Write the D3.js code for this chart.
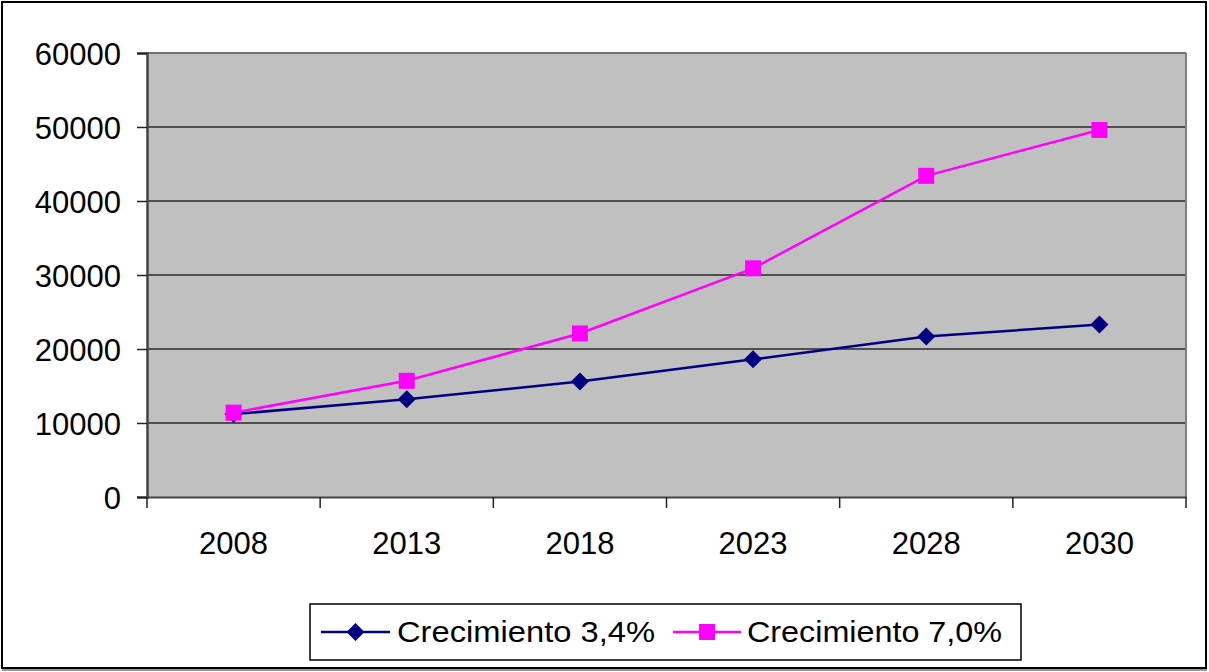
<!DOCTYPE html>
<html><head><meta charset="utf-8">
<script src="https://cdn.jsdelivr.net/npm/d3@7"></script>
<style>body{margin:0;background:#fff}svg{display:block;font-family:"Liberation Sans",Arial,sans-serif}</style>
</head><body><svg id="c" width="1209" height="672"></svg>
<script>
const categories = ["2008","2013","2018","2023","2028","2030"];
const serie34 = [11200,13200,15600,18600,21700,23300];
const serie70 = [11400,15700,22100,30900,43400,49600];
const seriesNames = ["Crecimiento 3,4%","Crecimiento 7,0%"];
const yTicks = [0,10000,20000,30000,40000,50000,60000];

const svg = d3.select("#c");
const L=147,R=1186,T=53,B=497;
const x = d3.scaleBand().domain(categories).range([L,R]);
const y = d3.scaleLinear().domain([0,60000]).range([B,T]);

// outer frame
svg.append("rect").attr("x",2).attr("y",2).attr("width",1204).attr("height",666).attr("fill","#fff").attr("stroke","#000").attr("stroke-width",2);
svg.append("line").attr("x1",2).attr("x2",1207).attr("y1",670).attr("y2",670).attr("stroke","#999").attr("stroke-width",2);

// plot bg
svg.append("rect").attr("x",L).attr("y",T).attr("width",R-L).attr("height",B-T).attr("fill","#C0C0C0");
// gridlines
svg.append("g").selectAll("line").data(yTicks.filter(d=>d>0 && d<60000)).join("line")
  .attr("x1",L).attr("x2",R).attr("y1",d=>y(d)).attr("y2",d=>y(d)).attr("stroke","#2a2a2a").attr("stroke-width",1.5);
// plot border top/right
svg.append("line").attr("x1",L).attr("x2",R).attr("y1",T).attr("y2",T).attr("stroke","#707070").attr("stroke-width",2);
svg.append("line").attr("x1",R).attr("x2",R).attr("y1",T).attr("y2",B).attr("stroke","#808080").attr("stroke-width",2);

// y axis
const ya = svg.append("g").attr("transform",`translate(${L},0)`).call(d3.axisLeft(y).tickValues(yTicks).tickSize(10).tickPadding(16).tickFormat(d3.format("d")));
ya.select(".domain").attr("stroke","#444").attr("stroke-width",2.5);
ya.selectAll(".tick line").attr("stroke","#222").attr("stroke-width",1.5);
ya.selectAll("text").attr("font-size",31).attr("font-family","Liberation Sans, Arial, sans-serif").attr("fill","#000").attr("dy","0.36em");

// x axis
const xa = svg.append("g").attr("transform",`translate(0,${B})`).call(d3.axisBottom(x).tickSize(0).tickPadding(35));
xa.select(".domain").attr("stroke","#444").attr("stroke-width",2);
xa.selectAll("text").attr("font-size",31).attr("font-family","Liberation Sans, Arial, sans-serif").attr("fill","#000");
// tick marks at band boundaries
const bounds = categories.map(c=>x(c)).concat([x(categories[categories.length-1])+x.bandwidth()]);
svg.append("g").selectAll("line").data(bounds).join("line")
  .attr("x1",d=>d).attr("x2",d=>d).attr("y1",B).attr("y2",B+11).attr("stroke","#222").attr("stroke-width",1.5);

const cx = c=>x(c)+x.bandwidth()/2;
const line = d3.line().x((d,i)=>cx(categories[i])).y(d=>y(d));

function diamondPath(s){return `M0,${-s}L${s},0L0,${s}L${-s},0Z`;}

// blue series
svg.append("path").datum(serie34).attr("d",line).attr("fill","none").attr("stroke","#000080").attr("stroke-width",2.5);
svg.append("g").selectAll("path").data(serie34).join("path")
  .attr("transform",(d,i)=>`translate(${cx(categories[i])},${y(d)})`).attr("d",diamondPath(9)).attr("fill","#000080");
// pink series
svg.append("path").datum(serie70).attr("d",line).attr("fill","none").attr("stroke","#FF00FF").attr("stroke-width",2.5);
svg.append("g").selectAll("rect").data(serie70).join("rect")
  .attr("x",(d,i)=>cx(categories[i])-8).attr("y",d=>y(d)-8).attr("width",16).attr("height",16).attr("fill","#FF00FF");

// legend
const lg = svg.append("g");
lg.append("rect").attr("x",310).attr("y",604).attr("width",711).attr("height",56).attr("fill","#fff").attr("stroke","#000").attr("stroke-width",1.5);
const items = [
  {name:seriesNames[0],color:"#000080",x1:321,x2:390,tx:397,tw:258,shape:"d"},
  {name:seriesNames[1],color:"#FF00FF",x1:673,x2:741,tx:747,tw:255,shape:"s"}
];
items.forEach(it=>{
  lg.append("line").attr("x1",it.x1).attr("x2",it.x2).attr("y1",632).attr("y2",632).attr("stroke",it.color).attr("stroke-width",2.5);
  const mx=(it.x1+it.x2)/2;
  if(it.shape==="d") lg.append("path").attr("transform",`translate(${mx},632)`).attr("d",diamondPath(9)).attr("fill",it.color);
  else lg.append("rect").attr("x",mx-8).attr("y",624).attr("width",16).attr("height",16).attr("fill",it.color);
  lg.append("text").attr("x",it.tx).attr("y",642).attr("font-size",30).attr("textLength",it.tw).attr("lengthAdjust","spacingAndGlyphs").attr("fill","#000").text(it.name);
});
</script></body></html>
